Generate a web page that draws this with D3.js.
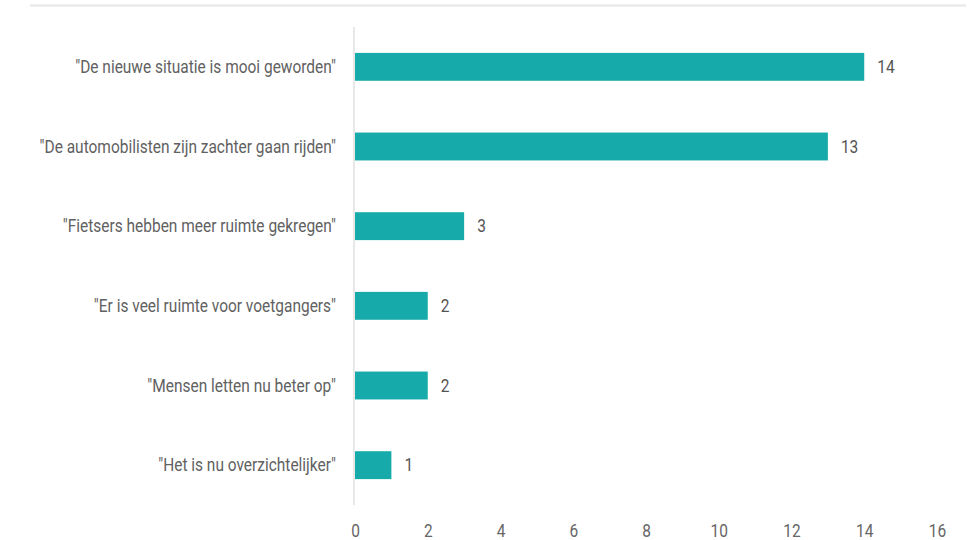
<!DOCTYPE html>
<html>
<head>
<meta charset="utf-8">
<script src="https://cdn.jsdelivr.net/npm/d3@7"></script>
<style>
  html, body { margin: 0; padding: 0; background: #fff; }
  text { font-family: Roboto, "Noto Sans", sans-serif; }
</style>
</head>
<body>
<svg id="chart" width="971" height="540"></svg>
<script>
const categories = [
  "\"De nieuwe situatie is mooi geworden\"",
  "\"De automobilisten zijn zachter gaan rijden\"",
  "\"Fietsers hebben meer ruimte gekregen\"",
  "\"Er is veel ruimte voor voetgangers\"",
  "\"Mensen letten nu beter op\"",
  "\"Het is nu overzichtelijker\""
];
const counts = [14, 13, 3, 2, 2, 1];
const tickValues = [0, 2, 4, 6, 8, 10, 12, 14, 16];

const svg = d3.select("#chart");
const condense = 0.86;
const fontSize = 18;

const x = d3.scaleLinear().domain([0, 16]).range([355, 937]);
const y = d3.scaleBand().domain(categories).range([27, 505]).paddingInner(0.65).paddingOuter(0.325);

// top rule
svg.append("line")
  .attr("x1", 30).attr("x2", 966).attr("y1", 5.5).attr("y2", 5.5)
  .attr("stroke", "#e6e6e6").attr("stroke-width", 2);

// zero baseline
svg.append("line")
  .attr("x1", x(0) - 1).attr("x2", x(0) - 1).attr("y1", 27).attr("y2", 505)
  .attr("stroke", "#e0e0e0").attr("stroke-width", 1.5);

// bars
svg.append("g").selectAll("rect").data(counts).join("rect")
  .attr("x", x(0))
  .attr("y", (d, i) => y(categories[i]))
  .attr("width", d => x(d) - x(0))
  .attr("height", y.bandwidth())
  .attr("fill", "#16aaaa");

function placeCondensed(sel, anchorX, anchorY, anchor) {
  sel.attr("text-anchor", anchor)
    .attr("transform", `translate(${anchorX},${anchorY}) scale(${condense},1)`);
}

// category labels
svg.append("g").selectAll("text").data(categories).join("text")
  .each(function (d) {
    placeCondensed(d3.select(this), 336, y(d) + y.bandwidth() / 2, "end");
  })
  .attr("dy", "0.35em")
  .attr("font-size", fontSize)
  .attr("fill", "#616161")
  .text(d => d);

// value labels
svg.append("g").selectAll("text").data(counts).join("text")
  .each(function (d, i) {
    placeCondensed(d3.select(this), x(d) + 13, y(categories[i]) + y.bandwidth() / 2, "start");
  })
  .attr("dy", "0.35em")
  .attr("font-size", fontSize)
  .attr("fill", "#555")
  .text(d => d);

// x axis tick labels
const axis = d3.axisBottom(x).tickValues(tickValues).tickSize(0).tickPadding(0);
const ax = svg.append("g").attr("transform", "translate(0,524)").call(axis);
ax.select(".domain").remove();
ax.selectAll(".tick text")
  .attr("font-size", fontSize)
  .attr("font-family", "Roboto, sans-serif")
  .attr("fill", "#666")
  .attr("y", 0)
  .attr("dy", "0.71em")
  .attr("transform", `scale(${condense},1)`);
</script>
</body>
</html>
